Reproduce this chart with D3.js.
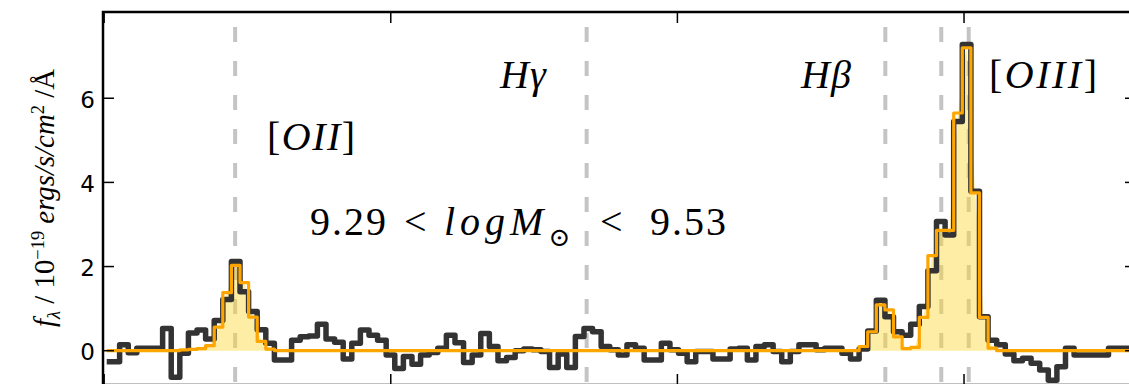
<!DOCTYPE html>
<html lang="en">
<head>
  <meta charset="UTF-8">
  <title>Spectrum stack</title>
  <script src="https://d3js.org/d3.v7.min.js"></script>
  <style>
    body { margin: 0; background: #fff; }
    svg { display: block; }
    .tick-label { font-family: "DejaVu Sans", sans-serif; font-size: 23px; fill: #000; }
  </style>
</head>
<body>
  <div id="chart"></div>

  <script>
    // wavelength grid of the binned spectrum (Angstrom, bin centres)
    const lamStart = 3504.5;
    const lamStep = 15;

    // observed flux per bin (10^-19 ergs/s/cm^2/A)
    const flux = [
      -0.26, -0.26, 0.14, -0.05, 0.06, 0.06, 0.06, 0.53, -0.63, -0.06,
      0.42, 0.49, 0.28, 0.72, 1.22, 2.12, 1.40, 0.93, 0.50, 0.18,
      -0.22, -0.22, 0.25, 0.33, 0.35, 0.63, 0.28, 0.20, -0.20, 0.18,
      0.49, 0.37, 0.25, -0.10, -0.42, -0.14, -0.32, -0.10, -0.04, 0.06,
      0.37, 0.19, -0.28, -0.10, 0.41, 0.10, -0.24, -0.16, 0.00, 0.04,
      0.02, -0.02, -0.40, -0.08, -0.40, 0.34, 0.53, 0.45, 0.10, 0.02,
      -0.10, 0.14, 0.06, -0.22, -0.22, 0.18, 0.02, -0.06, -0.26, -0.02,
      -0.02, -0.20, -0.20, 0.04, 0.06, -0.22, 0.10, 0.14, -0.02, -0.26,
      -0.02, 0.14, 0.14, 0.02, 0.06, 0.06, -0.06, -0.20, 0.04, 0.47,
      1.20, 0.81, 0.45, 0.37, 0.63, 1.05, 1.90, 3.07, 2.75, 5.45,
      7.28, 3.79, 0.81, 0.25, 0.14, -0.08, -0.24, -0.18, -0.30, -0.46,
      -0.70, -0.38, 0.06, -0.10, -0.10, -0.10, -0.10, 0.06, 0.06, 0.06
    ];

    // fitted line model per bin
    const model = [
      0, 0, 0, 0, 0, 0, 0, 0, 0, 0.02,
      0.03, 0.05, 0.12, 0.56, 1.38, 2.03, 1.62, 0.80, 0.22, 0.04,
      0, 0, 0, 0, 0, 0, 0, 0, 0, 0,
      0, 0, 0, 0, 0, 0, 0, 0, 0, 0,
      0, 0, 0, 0, 0, 0, 0, 0, 0, 0,
      0, 0, 0, 0, 0, 0, 0, 0, 0, 0,
      0, 0, 0, 0, 0, 0, 0, 0, 0, 0,
      0, 0, 0, 0, 0, 0, 0, 0, 0, 0,
      0, 0, 0, 0, 0, 0, 0, 0, 0.10, 0.45,
      1.09, 0.97, 0.33, 0.05, 0.08, 0.79, 2.26, 2.86, 2.86, 5.65,
      7.20, 3.75, 0.79, 0.06, 0, 0, 0, 0, 0, 0,
      0, 0, 0, 0, 0, 0, 0, 0, 0, 0
    ];

    // emission line positions (vacuum, Angstrom)
    const lineWaves = [3728.5, 4341.7, 4862.7, 4960.3, 5008.2];

    const xTicks = [3500, 4000, 4500, 5000];
    const yTicks = [0, 2, 4, 6];

    const W = 1129, H = 384;
    const pL = 103, pR = 1136, pT = 12, pB = 385;
    const serif = "Liberation Serif, Tinos, Times New Roman, Noto Serif, DejaVu Serif, FreeSerif, Nimbus Roman, serif";

    const spec = flux.map((f, i) => ({ lam: lamStart + lamStep * i, f: f, m: model[i] }));

    const x = d3.scaleLinear().domain([3498, 5300]).range([pL, pR]);
    const y = d3.scaleLinear().domain([-0.815, 8.05]).range([pB, pT]);

    const svg = d3.select("#chart").append("svg")
      .attr("width", W)
      .attr("height", H);

    svg.append("clipPath").attr("id", "plot-clip")
      .append("rect")
      .attr("x", pL).attr("y", pT)
      .attr("width", pR - pL).attr("height", pB - pT);

    const plot = svg.append("g").attr("clip-path", "url(#plot-clip)");

    // dashed line markers
    plot.selectAll(".em-line")
      .data(lineWaves)
      .enter().append("line")
      .attr("x1", d => x(d)).attr("x2", d => x(d))
      .attr("y1", pT).attr("y2", pB)
      .attr("stroke", "#c4c4c4")
      .attr("stroke-width", 4)
      .attr("stroke-dasharray", "15 19")
      .attr("stroke-dashoffset", 19);

    // model fill (linear between bin centres)
    const area = d3.area()
      .x(d => x(d.lam))
      .y0(y(0))
      .y1(d => y(d.m));

    plot.append("path")
      .datum(spec)
      .attr("d", area)
      .attr("fill", "#fdd835")
      .attr("fill-opacity", 0.45);

    // observed spectrum
    const stepObs = d3.line()
      .x(d => x(d.lam))
      .y(d => y(d.f))
      .curve(d3.curveStep);

    plot.append("path")
      .datum(spec)
      .attr("d", stepObs)
      .attr("fill", "none")
      .attr("stroke", "#333333")
      .attr("stroke-width", 5.5)
      .attr("stroke-linejoin", "round");

    // model steps
    const stepModel = d3.line()
      .x(d => x(d.lam))
      .y(d => y(d.m))
      .curve(d3.curveStep);

    plot.append("path")
      .datum(spec)
      .attr("d", stepModel)
      .attr("fill", "none")
      .attr("stroke", "#ffa500")
      .attr("stroke-width", 3.2)
      .attr("stroke-linejoin", "round");

    // axes: ticks pointing inward on all four sides
    const tickLen = 11;
    const axes = svg.append("g");

    axes.append("rect")
      .attr("x", pL).attr("y", pT)
      .attr("width", pR - pL).attr("height", pB - pT)
      .attr("fill", "none")
      .attr("stroke", "#000")
      .attr("stroke-width", 2.5);

    yTicks.forEach(t => {
      axes.append("line")
        .attr("x1", pL).attr("x2", pL + tickLen)
        .attr("y1", y(t)).attr("y2", y(t))
        .attr("stroke", "#000").attr("stroke-width", 1.5);
      axes.append("line")
        .attr("x1", pR - tickLen).attr("x2", pR)
        .attr("y1", y(t)).attr("y2", y(t))
        .attr("stroke", "#000").attr("stroke-width", 1.5);
    });

    xTicks.forEach(t => {
      axes.append("line")
        .attr("x1", x(t)).attr("x2", x(t))
        .attr("y1", pT).attr("y2", pT + tickLen)
        .attr("stroke", "#000").attr("stroke-width", 1.5);
      axes.append("line")
        .attr("x1", x(t)).attr("x2", x(t))
        .attr("y1", pB - tickLen).attr("y2", pB)
        .attr("stroke", "#000").attr("stroke-width", 1.5);
    });

    svg.selectAll(".tick-label")
      .data(yTicks)
      .enter().append("text")
      .attr("class", "tick-label")
      .attr("x", pL - 8)
      .attr("y", d => y(d))
      .attr("dy", "0.42em")
      .attr("text-anchor", "end")
      .text(d => d);

    // y axis label, scaled to span the same height as the original
    const ylab = svg.append("text")
      .attr("font-family", serif)
      .attr("transform", "translate(54,198) rotate(-90)")
      .attr("text-anchor", "middle")
      .attr("font-size", 25);
    ylab.append("tspan").attr("font-style", "italic").text("f");
    ylab.append("tspan").attr("dy", 6).attr("font-size", 16).attr("font-style", "italic").text("λ");
    ylab.append("tspan").attr("dy", -6).text("\u00a0/\u00a010");
    ylab.append("tspan").attr("dy", -10).attr("font-size", 16).text("−19");
    ylab.append("tspan").attr("dy", 10).attr("font-style", "italic").text("\u00a0ergs/s/cm");
    ylab.append("tspan").attr("dy", -10).attr("font-size", 16).text("2");
    ylab.append("tspan").attr("dy", 10).text("\u00a0/Å");
    const labLen = ylab.node().getComputedTextLength();
    if (labLen > 0) {
      const k = 258 / labLen;
      ylab.attr("font-size", 25 * k);
      ylab.selectAll("tspan").each(function() {
        const fs = d3.select(this).attr("font-size");
        if (fs) d3.select(this).attr("font-size", fs * k);
      });
    }

    // line annotations
    function mathLabel(x0, y0, parts, spacing) {
      const t = svg.append("text")
        .attr("font-family", serif)
        .attr("x", x0).attr("y", y0)
        .attr("font-size", 40)
        .attr("letter-spacing", spacing || 0);
      parts.forEach(p => {
        const s = t.append("tspan").text(p[0]);
        if (p[1]) s.attr("font-style", "italic");
      });
      return t;
    }

    mathLabel(267, 150, [["[", false], ["OII", true], ["]", false]], 1.5);
    mathLabel(500, 88, [["Hγ", true]], 1);
    mathLabel(801, 88, [["Hβ", true]], 1);
    mathLabel(989, 88, [["[", false], ["OIII", true], ["]", false]], 2.5);

    // mass range label
    const mass = svg.append("g").attr("font-family", serif).attr("font-size", 40);
    mass.append("text").attr("x", 310).attr("y", 235).attr("letter-spacing", 2).text("9.29");
    mass.append("text").attr("x", 404).attr("y", 235).text("<");
    const logM = mass.append("text").attr("x", 444).attr("y", 235)
      .attr("font-style", "italic").attr("letter-spacing", 5).text("logM");
    const mEnd = 444 + logM.node().getComputedTextLength();
    mass.append("text").attr("x", Math.max(mEnd, 540)).attr("y", 246).attr("font-size", 26).text("⊙");
    mass.append("text").attr("x", 600).attr("y", 235).text("<");
    mass.append("text").attr("x", 650).attr("y", 235).attr("letter-spacing", 2).text("9.53");
  </script>
</body>
</html>
